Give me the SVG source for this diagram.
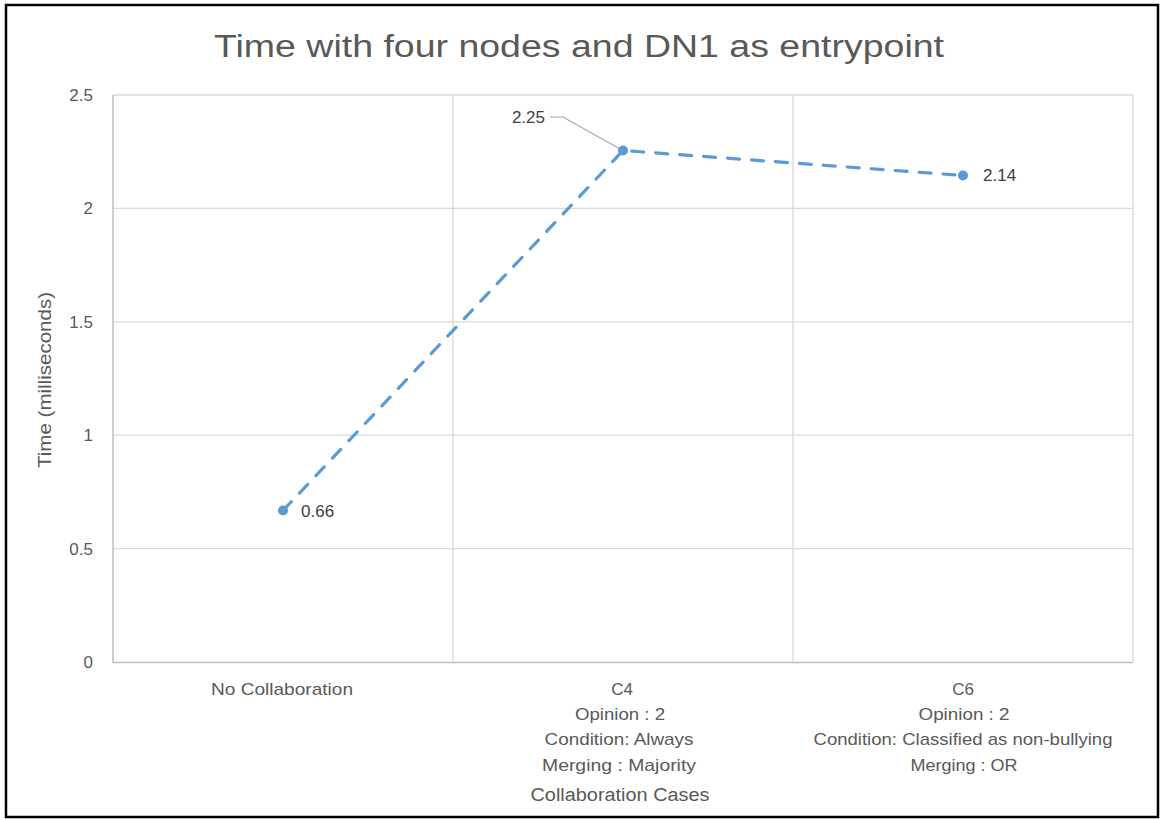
<svg xmlns="http://www.w3.org/2000/svg" width="1160" height="819" viewBox="0 0 1160 819">
<style>
text{font-family:"Liberation Sans",Arial,sans-serif;fill:#595959}
.tick{font-size:17px;text-anchor:end}
.cat{font-size:17px;text-anchor:middle}
.grid{stroke:#d9d9d9;stroke-width:1.3;fill:none}
.lbl{font-size:17px;fill:#404040}
</style>
<rect x="0" y="0" width="1160" height="819" fill="#fff"/>
<rect x="6" y="5" width="1152" height="812" fill="none" stroke="#000" stroke-width="2.5"/>
<g id="title"><text x="579" y="57" font-size="31" text-anchor="middle" textLength="730" lengthAdjust="spacingAndGlyphs">Time with four nodes and DN1 as entrypoint</text></g>
<g id="gridlines">
<path class="grid" d="M113 95H1133M113 208.4H1133M113 321.8H1133M113 435.2H1133M113 548.6H1133"/>
<path class="grid" d="M453 95V662M793 95V662M1133 95V662"/>
<path d="M113 95V662.5M112.5 662.5H1133" stroke="#bfbfbf" stroke-width="1.5" fill="none"/>
</g>
<g id="y-axis">
<text class="tick" x="93" y="101">2.5</text>
<text class="tick" x="93" y="214">2</text>
<text class="tick" x="93" y="328">1.5</text>
<text class="tick" x="93" y="441">1</text>
<text class="tick" x="93" y="555">0.5</text>
<text class="tick" x="93" y="668">0</text>
<text x="0" y="0" font-size="18" text-anchor="middle" textLength="176" lengthAdjust="spacingAndGlyphs" transform="translate(51 380) rotate(-90)">Time (milliseconds)</text>
</g>
<g id="x-axis">
<text class="cat" x="282" y="695" textLength="142" lengthAdjust="spacingAndGlyphs">No Collaboration</text>
<text class="cat" x="622" y="695">C4</text>
<text class="cat" x="620" y="720" textLength="90" lengthAdjust="spacingAndGlyphs">Opinion : 2</text>
<text class="cat" x="619" y="745" textLength="149" lengthAdjust="spacingAndGlyphs">Condition: Always</text>
<text class="cat" x="619" y="771" textLength="154" lengthAdjust="spacingAndGlyphs">Merging : Majority</text>
<text class="cat" x="963" y="695">C6</text>
<text class="cat" x="964" y="720" textLength="91" lengthAdjust="spacingAndGlyphs">Opinion : 2</text>
<text class="cat" x="963" y="745" textLength="299" lengthAdjust="spacingAndGlyphs">Condition: Classified as non-bullying</text>
<text class="cat" x="964" y="771" textLength="107" lengthAdjust="spacingAndGlyphs">Merging : OR</text>
<text x="620" y="801" font-size="18" text-anchor="middle" textLength="179" lengthAdjust="spacingAndGlyphs">Collaboration Cases</text>
</g>
<g id="connectors">
<polyline points="283,510.5 623,150.5 963,175.5" fill="none" stroke="#5b9bd5" stroke-width="3.2" stroke-dasharray="12,12" stroke-linecap="round"/>
<polyline points="550,117 563,117 620,149" fill="none" stroke="#a6a6a6" stroke-width="1.2"/>
</g>
<g id="point-nocollab"><circle cx="283" cy="510.5" r="5" fill="#5b9bd5"/><text class="lbl" x="301" y="517">0.66</text></g>
<g id="point-c4"><circle cx="623" cy="150.5" r="5" fill="#5b9bd5"/><text class="lbl" x="545" y="123" text-anchor="end">2.25</text></g>
<g id="point-c6"><circle cx="963" cy="175.5" r="5" fill="#5b9bd5"/><text class="lbl" x="983" y="181">2.14</text></g>
</svg>
